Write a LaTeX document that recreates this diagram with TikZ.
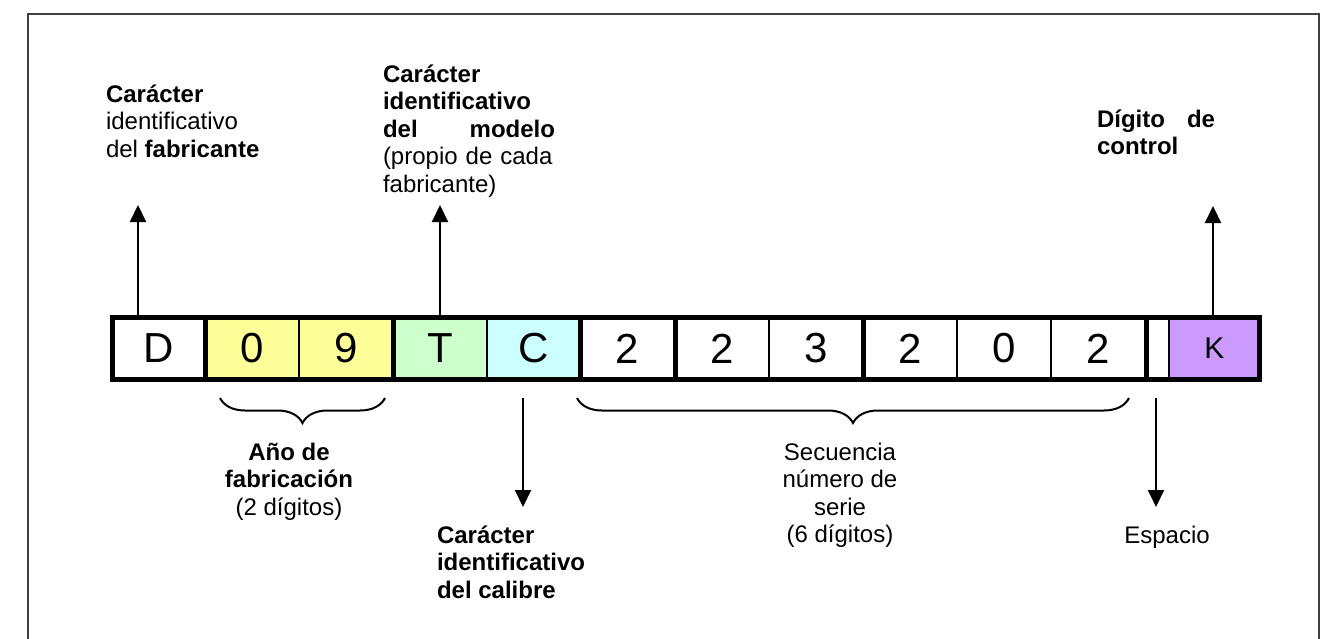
\documentclass[tikz,border=0pt]{standalone}
\usepackage{fontspec}
\setmainfont{Liberation Sans}
\usetikzlibrary{arrows.meta,decorations.pathreplacing}
\definecolor{cyel}{HTML}{FFFF99}
\definecolor{cgrn}{HTML}{CCFFCC}
\definecolor{ccya}{HTML}{CCFFFF}
\definecolor{cpur}{HTML}{CC99FF}
\definecolor{framec}{HTML}{404040}
\begin{document}
\begin{tikzpicture}[x=1pt,y=-1pt,
  cell/.style={draw=black, line width=1.5pt, minimum height=62pt, inner sep=0pt, outer sep=0pt, font=\fontsize{42}{50}\selectfont},
  sepline/.style={line width=5pt, line cap=rect},
  arr/.style={line width=2pt, -{Triangle[width=16pt,length=17pt]}},
  brc/.style={line width=2pt, decorate, decoration={brace, amplitude=25pt}},
  lbl/.style={inner sep=0pt, outer sep=0pt, font=\fontsize{24}{27.5}\selectfont},
  lblL/.style={lbl, anchor=north west, align=left},
  lblC/.style={lbl, anchor=north, align=center}]
\useasboundingbox (0,0) rectangle (1322,639);
\fill[white] (0,0) rectangle (1322,639);
% frame
\draw[framec, line width=2pt] (28,700) -- (28,14) -- (1319,14) -- (1319,700);
% cells
\node[cell, fill=white, minimum width=92.5pt] (cD) at (158.75,348.5) {D};
\node[cell, fill=cyel, minimum width=94pt] (c0a) at (252,348.5) {0};
\node[cell, fill=cyel, minimum width=94pt] (c9) at (346,348.5) {9};
\node[cell, fill=cgrn, minimum width=94pt] (cT) at (440,348.5) {T};
\node[cell, fill=ccya, minimum width=93pt] (cC) at (533.5,348.5) {C};
\node[cell, fill=white, minimum width=95pt] (c2a) at (627.5,348.5) {2};
\node[cell, fill=white, minimum width=94pt] (c2b) at (722,348.5) {2};
\node[cell, fill=white, minimum width=94pt] (c3) at (816,348.5) {3};
\node[cell, fill=white, minimum width=94pt] (c2c) at (910,348.5) {2};
\node[cell, fill=white, minimum width=94pt] (c0b) at (1004,348.5) {0};
\node[cell, fill=white, minimum width=95pt] (c2f) at (1098.5,348.5) {2};
\node[cell, fill=white, minimum width=23pt] (cS) at (1157.5,348.5) {};
\node[cell, fill=cpur, minimum width=90.5pt] (cK) at (1214.25,348.5) {\raisebox{-4pt}{\fontsize{30}{36}\selectfont K}};
% thick separators and outline
\foreach \n in {cD,c9,cC,c2a,c3,c2f} \draw[sepline] (\n.north east) -- (\n.south east);
\draw[sepline] (cD.north west) rectangle (cK.south east);
% labels
\node[lblL] (lblF) at (106,83.1) {\strut\textbf{Carácter}\\identificativo\\del \textbf{fabricante}};
\node[lblL, text width=172pt] (lblM) at (383,63.1) {\strut\textbf{Carácter}\\\textbf{identificativo}\\\textbf{del}\hfill\textbf{modelo}\\(propio de cada\\fabricante)};
\node[lblL, text width=118pt] (lblK) at (1097,108.1) {\strut\textbf{Dígito}\hfill\textbf{de}\\\textbf{control}};
\node[lblC] (lblA) at (289,441.1) {\strut\textbf{Año de}\\\textbf{fabricación}\\(2 dígitos)};
\node[lblL] (lblCal) at (437,524.1) {\strut\textbf{Carácter}\\\textbf{identificativo}\\\textbf{del calibre}};
\node[lblC] (lblS) at (840,441.1) {\strut Secuencia\\número de\\serie\\(6 dígitos)};
\node[lblC] (lblE) at (1167,524.1) {\strut Espacio};
% arrows
\coordinate (tF) at (138,205);
\coordinate (tM) at (440,205);
\coordinate (tK) at (1213,206);
\draw[arr] (tF |- cD.north) -- (tF);
\draw[arr] (cT.north) -- (tM);
\draw[arr] (tK |- cK.north) -- (tK);
\coordinate (sC) at (523,398);
\coordinate (eC) at (523,507);
\draw[arr] (sC) -- (eC);
\coordinate (sE) at (1156,398);
\coordinate (eE) at (1156,507);
\draw[arr] (sE) -- (eE);
% braces
\coordinate (bA1) at (220,398);
\coordinate (bA2) at (385,398);
\draw[brc] (bA2) -- (bA1);
\coordinate (bS1) at (577,398);
\coordinate (bS2) at (1129,398);
\draw[brc] (bS2) -- (bS1);
\end{tikzpicture}
\end{document}
